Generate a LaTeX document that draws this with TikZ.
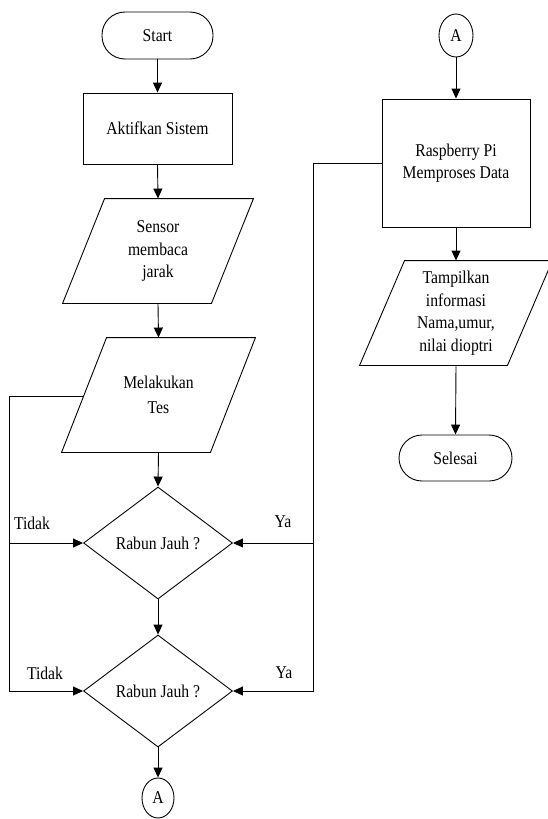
\documentclass[tikz,border=0pt]{standalone}
\usepackage{fontspec}
\setmainfont{Liberation Serif}[FakeStretch=0.87]
\usetikzlibrary{shapes.geometric,arrows.meta,calc}
\begin{document}
\begin{tikzpicture}[x=1pt,y=-1pt,
  line width=0.9pt,
  every node/.style={font=\fontsize{18}{22.5}\selectfont, align=center, inner sep=0pt},
  term/.style={draw, rounded corners=23pt, minimum width=111pt, minimum height=47pt},
  proc/.style={draw, minimum width=149pt},
  paraghost/.style={minimum height=104pt},
  dec/.style={draw, diamond, minimum width=149pt, minimum height=112pt},
  conn/.style={draw, ellipse, minimum width=33pt, minimum height=42pt},
  lbl/.style={},
  arr/.style={-{Triangle[length=10pt,width=9pt]}}
]
\fill[white] (0,0) rectangle (547,819);
\useasboundingbox (0,0) rectangle (547,819);

% left column
\node[term] (start) at (157.5,35.5) {Start};
\node[proc, minimum height=71pt] (akt) at (157.5,128.5) {Aktifkan Sistem};
\node[paraghost, minimum width=190pt] (sensor) at (158,251) {Sensor\\membaca\\jarak};
\draw ([xshift=42pt]sensor.north west) -- (sensor.north east) -- ([xshift=-42pt]sensor.south east) -- (sensor.south west) -- cycle;
\node[minimum width=193pt, minimum height=114pt] (tes) at (158.5,395) {Melakukan\\[3pt]Tes};
\draw ([xshift=45pt]tes.north west) -- (tes.north east) -- ([xshift=-45pt]tes.south east) -- (tes.south west) -- cycle;
\node[dec] (d1) at (158,543) {Rabun Jauh ?};
\node[dec] (d2) at (158,691) {Rabun Jauh ?};
\node[conn, minimum width=32pt, minimum height=40pt] (abot) at (158,798) {A};

% right column
\node[conn, minimum width=34pt, minimum height=43pt] (atop) at (456,35.5) {A};
\node[proc, minimum width=148pt, minimum height=128pt] (rasp) at (456,163) {Raspberry Pi\\Memproses Data};
\node[minimum width=192pt, minimum height=104pt] (tamp) at (456,313) {Tampilkan\\informasi\\Nama,umur,\\nilai dioptri};
\draw ([xshift=45pt]tamp.north west) -- (tamp.north east) -- ([xshift=-45pt]tamp.south east) -- (tamp.south west) -- cycle;
\node[term, minimum width=113pt, minimum height=46pt] (sel) at (455.5,458) {Selesai};

% labels
\node[lbl] (t1) at (32,523) {Tidak};
\node[lbl] (t2) at (45,673) {Tidak};
\node[lbl] (y1) at (283,522) {Ya};
\node[lbl] (y2) at (284,673) {Ya};

% helper coordinates
\coordinate (tl) at (84,396);
\coordinate (lx1) at (9,543);
\coordinate (lx2) at (9,691);
\coordinate (rx1) at (313,543);
\coordinate (rx2) at (313,691);

% connectors
\draw[arr] (start.south) -- (akt.north);
\draw[arr] (akt.south) -- (sensor.north);
\draw[arr] (sensor.south) -- (tes.north);
\draw[arr] (tes.south) -- (d1.north);
\draw[arr] (d1.south) -- (d2.north);
\draw[arr] (d2.south) -- (abot.north);

\draw[arr] (tl) -| (lx2) -- (d2.west);
\draw[arr] (lx1) -- (d1.west);
\draw[arr] (rasp.west) -| (rx2) -- (d2.east);
\draw[arr] (rx1) -- (d1.east);

\draw[arr] (atop.south) -- (rasp.north);
\draw[arr] (rasp.south) -- (tamp.north);
\draw[arr] (tamp.south) -- (sel.north);
\end{tikzpicture}
\end{document}
